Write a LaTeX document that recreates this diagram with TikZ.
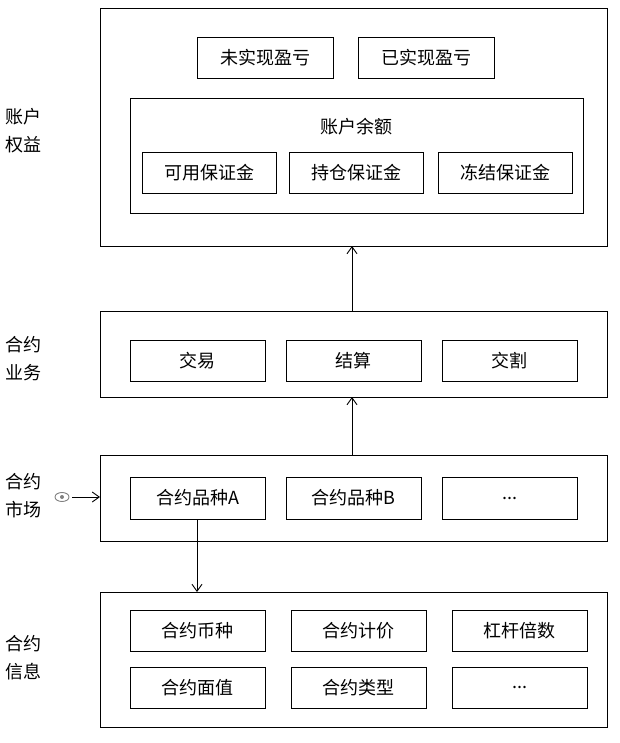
\documentclass[tikz,border=0pt]{standalone}
\usepackage{fontspec}
\setmainfont{Noto Sans CJK SC}
\usetikzlibrary{arrows.meta}
\newcommand{\ellip}{...}
\begin{document}
\begin{tikzpicture}[x=1pt,y=-1pt, >={Straight Barb[length=7pt,width=10pt]},
    panel/.style={draw, line width=0.9pt},
    item/.style={draw, line width=0.9pt},
    txt/.style={font=\fontsize{18}{20}\selectfont},
    lbl/.style={font=\fontsize{18}{28}\selectfont, anchor=west, align=left}]
  \useasboundingbox (0,0) rectangle (620,743);
  % outer panels
  \draw[panel] (100,8) rectangle (607,246);
  \draw[panel] (100,311) rectangle (607,397);
  \draw[panel] (100,455) rectangle (607,541);
  \draw[panel] (100,592) rectangle (607,727);
  \coordinate (p1b) at (352,246);
  \coordinate (p2t) at (352,311);
  \coordinate (p2b) at (352,397);
  \coordinate (p3t) at (352,455);
  \coordinate (p4t) at (197,592);
  % left labels
  \node[lbl] at (2,131) {账户\\权益};
  \node[lbl] at (2,359) {合约\\业务};
  \node[lbl] at (2,496) {合约\\市场};
  \node[lbl] at (2,658) {合约\\信息};
  % account equity
  \foreach \x/\t in {197/未实现盈亏, 358/已实现盈亏}
    \draw[item] (\x,37) rectangle ++(136,41) node[midway, txt] {\t};
  \draw[item] (130,98) rectangle (583,213);
  \node[txt] (ye) at (356,127) {账户余额};
  \foreach \x/\t in {142/可用保证金, 289/持仓保证金, 438/冻结保证金}
    \draw[item] (\x,152) rectangle ++(134,41) node[midway, txt] {\t};
  % business
  \foreach \x/\t in {130/交易, 286/结算, 442/交割}
    \draw[item] (\x,340) rectangle ++(135,41) node[midway, txt] {\t};
  % market
  \draw[item] (130,477) rectangle (265,519) node[midway, txt] (pa) {合约品种A};
  \coordinate (pab) at (197,519);
  \draw[item] (286,477) rectangle ++(135,42) node[midway, txt] {合约品种B};
  \draw[item] (442,477) rectangle ++(135,42) node[midway, txt] {\ellip};
  % info
  \foreach \x/\a/\b in {130/合约币种/合约面值, 291/合约计价/合约类型, 452/杠杆倍数/\ellip}{
    \draw[item] (\x,610) rectangle ++(135,41) node[midway, txt] {\a};
    \draw[item] (\x,667) rectangle ++(135,41) node[midway, txt] {\b};
  }
  % arrows
  \draw[->, line width=0.9pt] (p2t) -- (p1b);
  \draw[->, line width=0.9pt] (p3t) -- (p2b);
  \draw[->, line width=0.9pt] (pab) -- (p4t);
  % eye and market input
  \draw[gray, line width=0.9pt] (62,497) ellipse (7 and 4.5);
  \fill[gray] (62,497) circle (2);
  \coordinate (eye) at (72,497);
  \coordinate (p3l) at (100,497);
  \draw[->, line width=0.9pt] (eye) -- (p3l);
\end{tikzpicture}
\end{document}
